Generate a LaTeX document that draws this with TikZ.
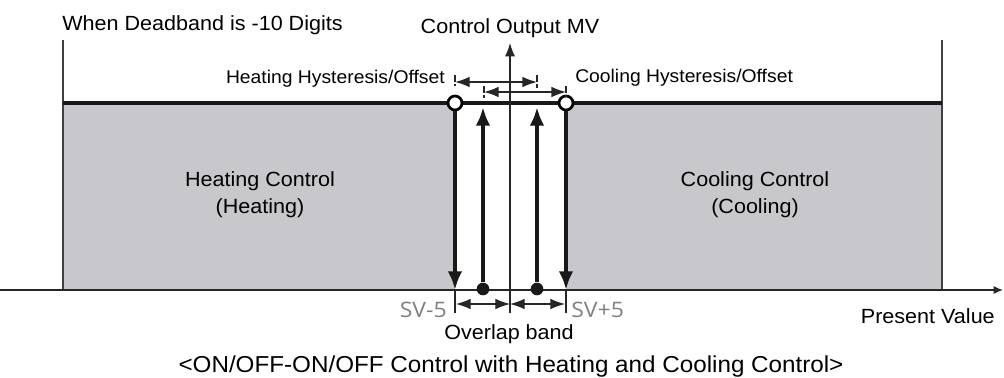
\documentclass[tikz,border=0pt]{standalone}
\usepackage{fontspec}
\setmainfont{Liberation Sans}[FakeStretch=1.05]
\newfontfamily\svfont{Open Sans}[FakeStretch=1.08]
\usetikzlibrary{arrows.meta}
\definecolor{panel}{RGB}{200,200,204}
\definecolor{svgray}{RGB}{128,128,128}
\begin{document}
\begin{tikzpicture}[x=0.75pt,y=-0.75pt,
  frame/.style={draw=black!75,line width=1pt},
  topline/.style={draw=black!90,line width=3pt},
  thinline/.style={draw=black!85,line width=0.9pt},
  bigarrow/.style={draw=black!90,line width=3pt,-{Latex[length=14pt,width=11pt]}},
  hyst/.style={draw=black!85,line width=1pt,{Latex[length=11pt,width=8pt]}-{Latex[length=11pt,width=8pt]}},
  tick/.style={draw=black!85,line width=0.8pt,dash pattern=on 5pt off 1.5pt},
  ring/.style={circle,draw=black,line width=2pt,fill=white,minimum size=10.5pt,inner sep=0pt},
  dot/.style={circle,fill=black!90,minimum size=9.5pt,inner sep=0pt},
  lbl/.style={inner sep=0pt,font=\fontsize{15.4pt}{18pt}\selectfont},
  small/.style={inner sep=0pt,font=\fontsize{13.8pt}{16pt}\selectfont},
  svlbl/.style={inner sep=0pt,text=svgray,font=\svfont\fontsize{16pt}{18pt}\selectfont}]
\useasboundingbox (0,0) rectangle (1004,378);
% grey panels
\fill[panel] (63,103) rectangle (455,290);
\fill[panel] (566,103) rectangle (942,290);
% frame lines
\coordinate (lt) at (63,40); \coordinate (lb) at (63,290);
\coordinate (rt) at (942,40); \coordinate (rb) at (942,290);
\draw[frame] (lt) -- (lb);
\draw[frame] (rt) -- (rb);
% top level line
\coordinate (tl) at (63,103); \coordinate (tr) at (942,103);
\draw[topline] (tl) -- (tr);
% axis
\coordinate (a0) at (0,290); \coordinate (a1) at (1003,290);
\draw[thinline,-{Latex[length=7pt,width=6pt]}] (a0) -- (a1);
% centre vertical axis
\coordinate (cb) at (510,313); \coordinate (ct) at (510,43);
\draw[thinline,-{Latex[length=10pt,width=7.5pt]}] (cb) -- (ct);
% SV lines below axis
\coordinate (s1t) at (455,290); \coordinate (s1b) at (455,313);
\coordinate (s2t) at (566,290); \coordinate (s2b) at (566,313);
\draw[thinline] (s1t) -- (s1b);
\draw[thinline] (s2t) -- (s2b);
% down arrows from rings
\node[ring] (r1) at (455,103) {};
\node[ring] (r2) at (566,103) {};
\draw[bigarrow] (r1) -- (s1t);
\draw[bigarrow] (r2) -- (s2t);
% up arrows from dots
\node[dot] (d1) at (483,289) {};
\node[dot] (d2) at (537,289) {};
\coordinate (u1) at (483,107); \coordinate (u2) at (537,107);
\draw[bigarrow] (d1) -- (u1);
\draw[bigarrow] (d2) -- (u2);
% hysteresis arrows
\coordinate (h1l) at (455,82); \coordinate (h1r) at (537,82);
\coordinate (h2l) at (484,92); \coordinate (h2r) at (566,92);
\draw[hyst] (h1l) -- (h1r);
\draw[hyst] (h2l) -- (h2r);
\coordinate (k1a) at (455,75); \coordinate (k1b) at (455,86);
\coordinate (k2a) at (537,75); \coordinate (k2b) at (537,88);
\coordinate (k3a) at (484,86); \coordinate (k3b) at (484,98);
\coordinate (k4a) at (566,86); \coordinate (k4b) at (566,97);
\draw[tick] (k1a) -- (k1b);
\draw[tick] (k2a) -- (k2b);
\draw[tick] (k3a) -- (k3b);
\draw[tick] (k4a) -- (k4b);
% overlap band arrows
\coordinate (o1) at (456,304); \coordinate (o2) at (510,304); \coordinate (o3) at (565,304);
\draw[hyst,line width=0.9pt] (o1) -- (o2);
\draw[hyst,line width=0.9pt] (o2) -- (o3);
% texts
\node[lbl,anchor=base west] (title) at (62,31) {When Deadband is -10 Digits};
\node[lbl,anchor=base] (mv) at (510,34) {Control Output MV};
\node[small,anchor=base east] (hh) at (445,84) {Heating Hysteresis/Offset};
\node[small,anchor=base west] (ch) at (575,83) {Cooling Hysteresis/Offset};
\node[lbl,anchor=base] (hc1) at (260,186) {Heating Control};
\node[lbl,anchor=base] (hc2) at (260,213) {(Heating)};
\node[lbl,anchor=base] (cc1) at (755,186) {Cooling Control};
\node[lbl,anchor=base] (cc2) at (755,213) {(Cooling)};
\node[svlbl,anchor=base east] (sv1) at (447,317) {SV-5};
\node[svlbl,anchor=base west] (sv2) at (571,317) {SV+5};
\node[lbl,anchor=base] (ob) at (509,339) {Overlap band};
\node[lbl,anchor=base east] (pv) at (995,323) {Present Value};
\node[lbl,anchor=base,font=\fontsize{17.3pt}{20pt}\selectfont] (cap) at (511,372) {<ON/OFF-ON/OFF Control with Heating and Cooling Control>};
\end{tikzpicture}
\end{document}
